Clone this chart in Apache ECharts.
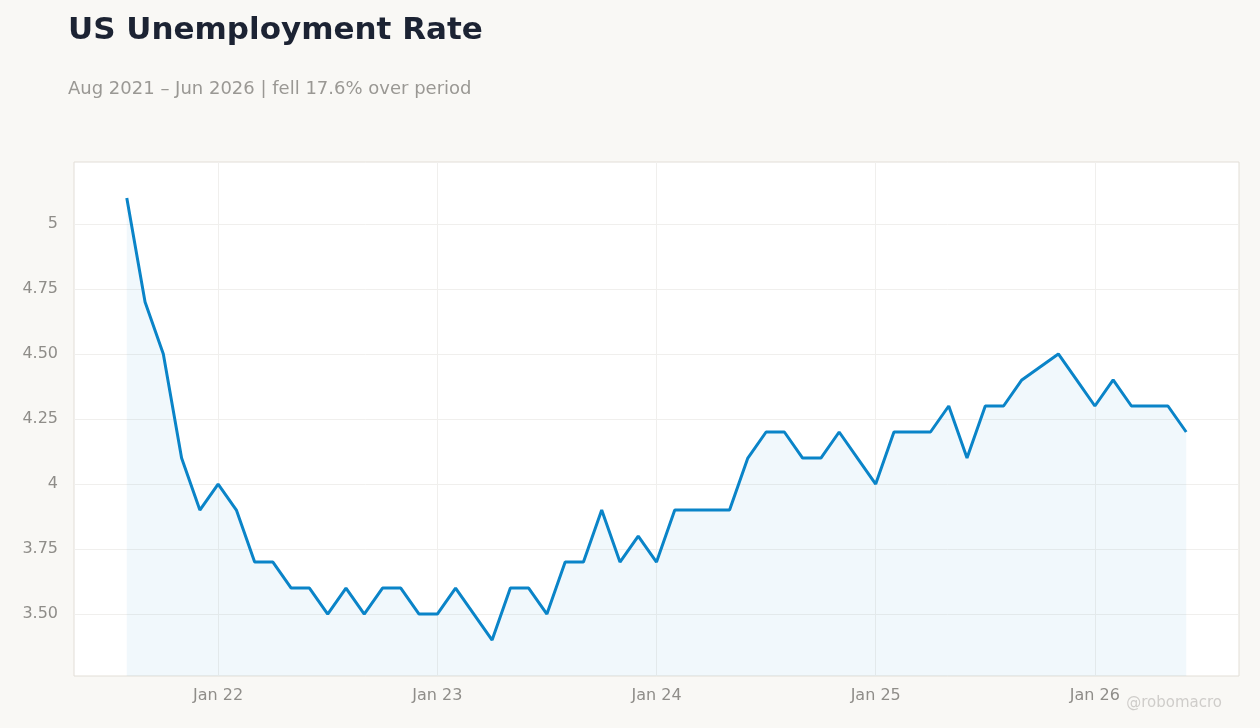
<!DOCTYPE html>
<html><head><meta charset="utf-8">
<script src="https://cdn.jsdelivr.net/npm/echarts@6/dist/echarts.min.js"></script>
<style>html,body{margin:0;padding:0;background:#f9f8f5;}#c{width:1260px;height:728px;}</style>
</head><body><div id="c"></div>
<script>
const startYear = 2021, startMonth = 8;
const rates = [5.1,4.7,4.5,4.1,3.9,4.0,3.9,3.7,3.7,3.6,3.6,3.5,3.6,3.5,3.6,3.6,3.5,3.5,3.6,3.5,3.4,3.6,3.6,3.5,3.7,3.7,3.9,3.7,3.8,3.7,3.9,3.9,3.9,3.9,4.1,4.2,4.2,4.1,4.1,4.2,4.1,4.0,4.2,4.2,4.2,4.3,4.1,4.3,4.3,4.4,4.45,4.5,4.4,4.3,4.4,4.3,4.3,4.3,4.2];
const yTicks = [3.5,3.75,4,4.25,4.5,4.75,5];
const xTickYears = [2022,2023,2024,2025,2026];

// x = months since start (Aug 2021 = 0)
const data = rates.map((v,i)=>[i, v]);
const yearToIdx = y => (y - startYear) * 12 - (startMonth - 1);
const xTicks = xTickYears.map(yearToIdx);

const chart = echarts.init(document.getElementById('c'));
chart.setOption({
  backgroundColor:'#f9f8f5',
  animation:false,
  title:[
    {text:'US Unemployment Rate',left:63,top:10,textStyle:{fontFamily:'DejaVu Sans',fontSize:31,fontWeight:'bold',color:'#1c2333'}},
    {text:'Aug 2021 – Jun 2026 | fell 17.6% over period',left:63,top:75,textStyle:{fontFamily:'DejaVu Sans',fontSize:18,fontWeight:'normal',color:'#9a9894'}}
  ],
  graphic:[{type:'text',right:38,top:696,style:{text:'@robomacro',font:'15px DejaVu Sans',fill:'#cfcdca'}}],
  grid:{left:74,top:162,right:21,bottom:52,show:true,backgroundColor:'#ffffff',borderColor:'#e2ded7',borderWidth:1},
  xAxis:{type:'value',min:-2.89,max:60.89,
    axisLine:{show:false},
    axisTick:{show:false,customValues:xTicks},
    axisLabel:{customValues:xTicks,formatter:v=>{const y=startYear+Math.floor((v+startMonth-1)/12);return 'Jan '+String(y).slice(2);},color:'#8f8d89',fontSize:16,fontFamily:'DejaVu Sans',margin:12},
    splitLine:{show:true,lineStyle:{color:'#f0efed'}}},
  yAxis:{type:'value',min:3.262,max:5.238,
    axisLine:{show:false},axisTick:{show:false,customValues:yTicks},
    axisLabel:{customValues:yTicks,formatter:v=>(v===5||v===4)?String(v):v.toFixed(2),color:'#8f8d89',fontSize:16,fontFamily:'DejaVu Sans',margin:16},
    splitLine:{show:true,lineStyle:{color:'#f0efed'}}},
  series:[{type:'line',data:data,symbol:'none',lineStyle:{color:'#0a84c8',width:3},
    areaStyle:{color:'rgba(80,160,220,0.11)',origin:'start'}}]
});
</script></body></html>
